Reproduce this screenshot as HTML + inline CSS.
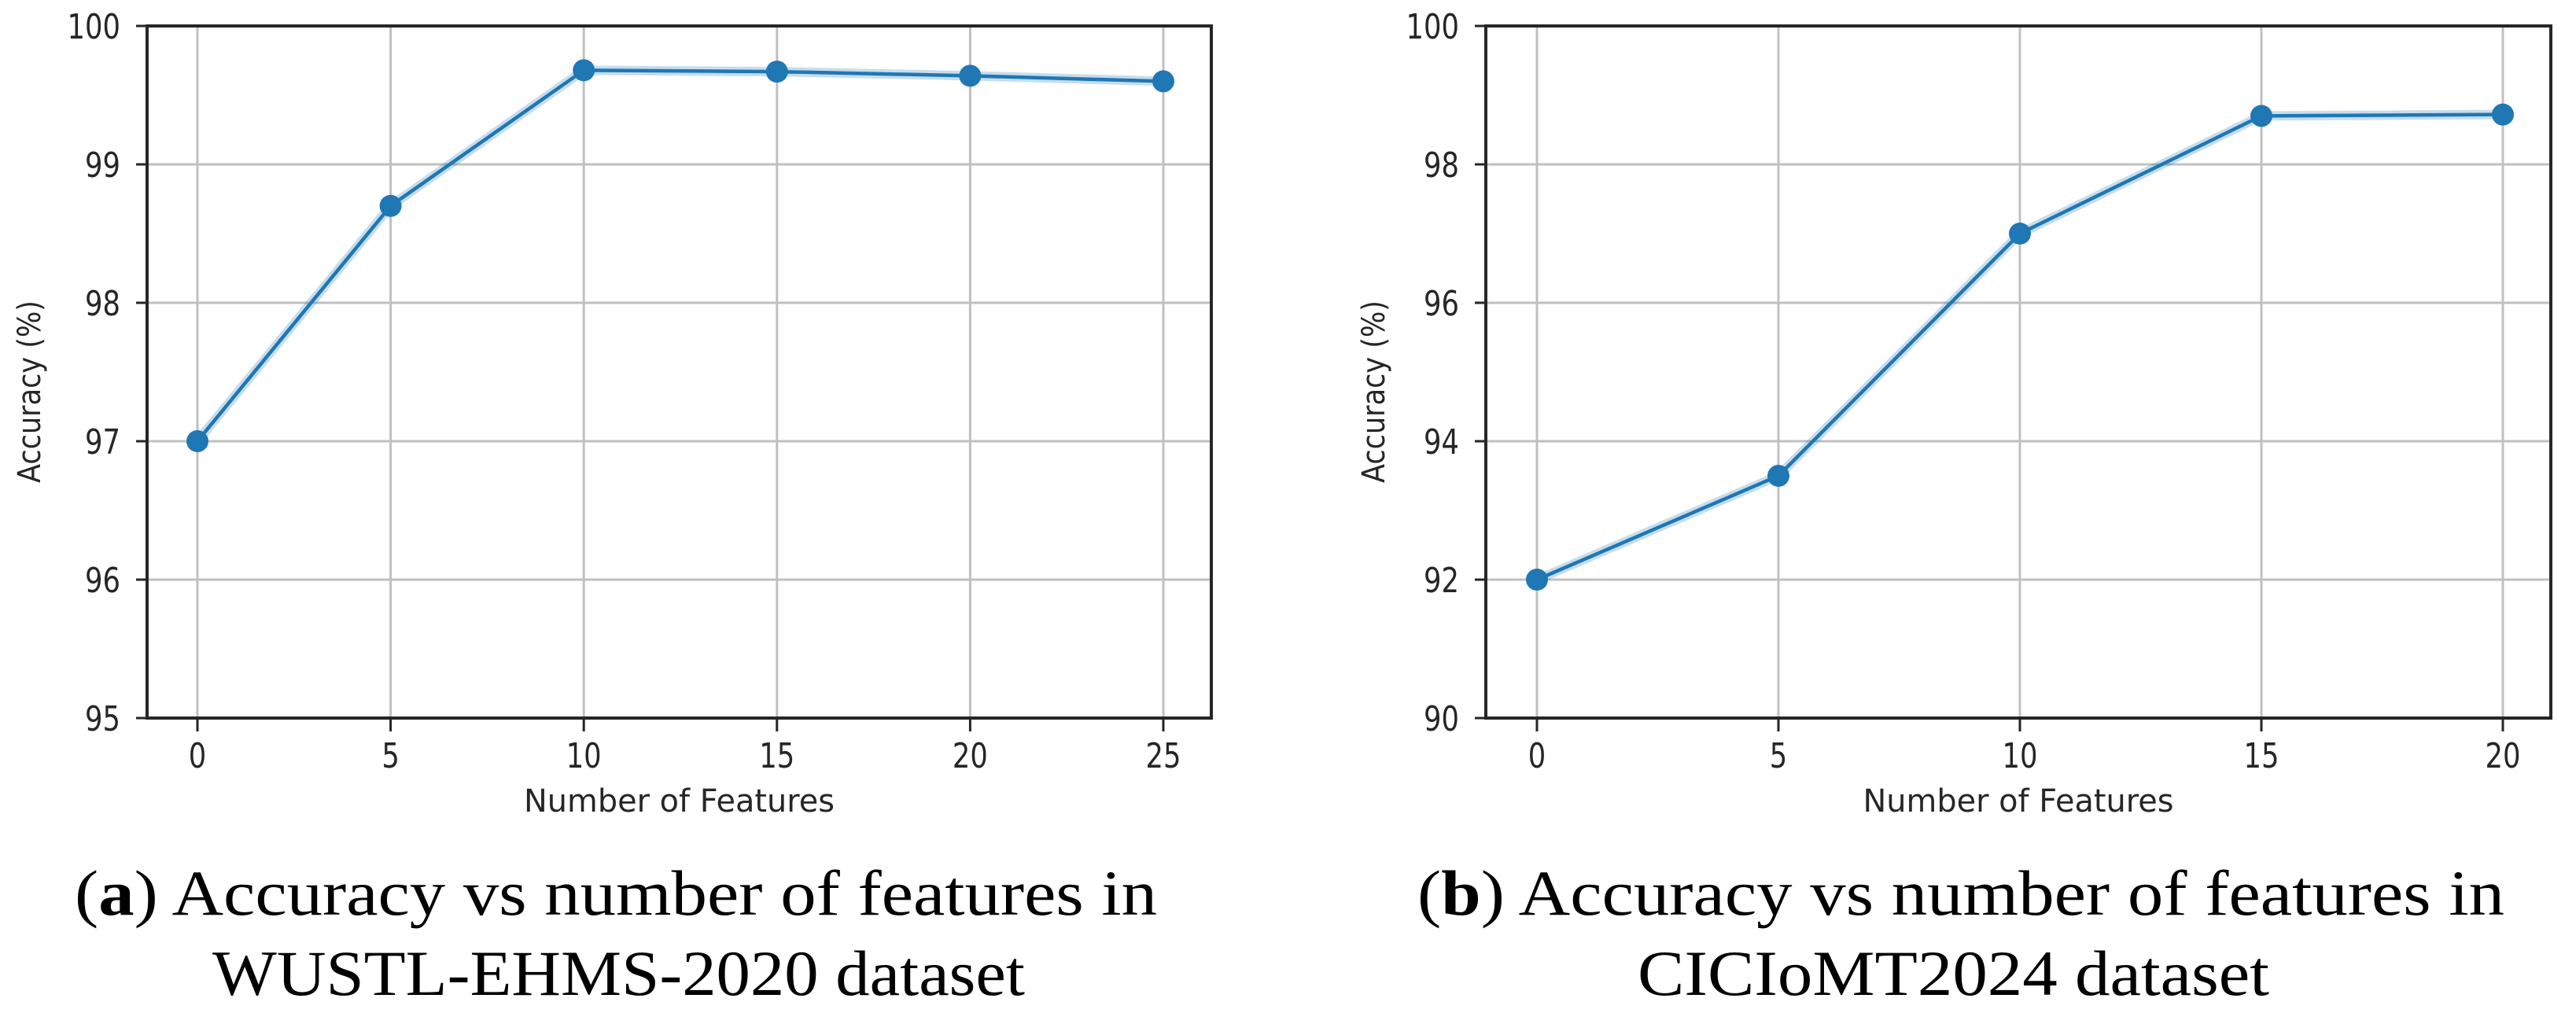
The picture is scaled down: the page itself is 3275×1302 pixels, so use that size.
<!DOCTYPE html>
<html><head><meta charset="utf-8"><style>
html,body{margin:0;padding:0;background:#fff;}
svg{display:block;}
.tick{font-family:"DejaVu Sans","Liberation Sans",sans-serif;font-size:44px;fill:#262626;}
.lab{font-family:"DejaVu Sans","Liberation Sans",sans-serif;font-size:40px;fill:#262626;}
.cap{font-family:"Liberation Serif",serif;font-size:82px;fill:#000;}
</style></head><body>
<svg id="fig" width="3275" height="1302" viewBox="0 0 3275 1302" xmlns="http://www.w3.org/2000/svg">
<g id="chartA"></g>
<g id="chartB"></g>
<text class="cap" x="95" y="1163" textLength="1376" lengthAdjust="spacingAndGlyphs">(<tspan font-weight="bold">a</tspan>) Accuracy vs number of features in</text>
<text class="cap" x="270" y="1265" textLength="1033" lengthAdjust="spacingAndGlyphs">WUSTL-EHMS-2020 dataset</text>
<text class="cap" x="1802" y="1163" textLength="1382" lengthAdjust="spacingAndGlyphs">(<tspan font-weight="bold">b</tspan>) Accuracy vs number of features in</text>
<text class="cap" x="2082" y="1265" textLength="803" lengthAdjust="spacingAndGlyphs">CICIoMT2024 dataset</text>
</svg>
<script>
const featuresA = [0, 5, 10, 15, 20, 25];
const accuracyA = [97.0, 98.7, 99.68, 99.67, 99.64, 99.6];
const xTicksA = [0, 5, 10, 15, 20, 25];
const yTicksA = [95, 96, 97, 98, 99, 100];

const featuresB = [0, 5, 10, 15, 20];
const accuracyB = [92.0, 93.5, 97.0, 98.7, 98.72];
const xTicksB = [0, 5, 10, 15, 20];
const yTicksB = [90, 92, 94, 96, 98, 100];

const NS = "http://www.w3.org/2000/svg";
function mk(parent, tag, attrs, text) {
  const e = document.createElementNS(NS, tag);
  for (const k in attrs) e.setAttribute(k, attrs[k]);
  if (text !== undefined) e.textContent = text;
  parent.appendChild(e);
  return e;
}

function drawChart(gid, cfg, xs, ys, xTicks, yTicks) {
  const g = document.getElementById(gid);
  const X = v => cfg.x0 + (v - cfg.xmin) * cfg.xu;
  const Y = v => cfg.top + (cfg.ymax - v) / (cfg.ymax - cfg.ymin) * (cfg.bottom - cfg.top);
  // grid
  xTicks.forEach(t => {
    const l = mk(g, "line", {x1: X(t), x2: X(t), y1: cfg.top, y2: cfg.bottom, stroke: "#c0c0c0", "stroke-width": 3});
    
    
    const tk = mk(g, "line", {x1: X(t), x2: X(t), y1: cfg.bottom, y2: cfg.bottom + 17, stroke: "#262626", "stroke-width": 3});
    
    
    const s = String(t);
    const tx = mk(g, "text", {class: "tick", x: X(t), y: 976, "text-anchor": "middle", textLength: s.length * 22.5, lengthAdjust: "spacingAndGlyphs"}, s);
    
    
  });
  yTicks.forEach(t => {
    if (t !== cfg.ymin && t !== cfg.ymax) {
      const l = mk(g, "line", {x1: cfg.left, x2: cfg.right, y1: Y(t), y2: Y(t), stroke: "#c0c0c0", "stroke-width": 3});
      
      
    }
    const tk = mk(g, "line", {x1: cfg.left - 14, x2: cfg.left, y1: Y(t), y2: Y(t), stroke: "#262626", "stroke-width": 3});
    
    
    const s = String(t);
    const tx = mk(g, "text", {class: "tick", x: cfg.left - 34, y: Y(t) + 16, "text-anchor": "end", textLength: s.length * 22.5, lengthAdjust: "spacingAndGlyphs"}, s);
    
    
  });
  // frame
  const fr = mk(g, "rect", {x: cfg.left, y: cfg.top, width: cfg.right - cfg.left, height: cfg.bottom - cfg.top, fill: "none", stroke: "#262626", "stroke-width": 4});
  
  
  // series
  const pts = xs.map((x, i) => X(x) + "," + Y(ys[i])).join(" ");
  const halo = mk(g, "polyline", {points: pts, fill: "none", stroke: "#1f77b4", "stroke-opacity": 0.25, "stroke-width": 12});
  
  
  const pl = mk(g, "polyline", {points: pts, fill: "none", stroke: "#1f77b4", "stroke-width": 4.5});
  
  
  xs.forEach((x, i) => {
    const c = mk(g, "circle", {cx: X(x), cy: Y(ys[i]), r: 14, fill: "#1f77b4"});
    
    
  });
  // axis labels
  const xl = mk(g, "text", {class: "lab", x: (cfg.left + cfg.right) / 2, y: 1032, "text-anchor": "middle", textLength: 395, lengthAdjust: "spacingAndGlyphs"}, "Number of Features");
  
  
  const yl = mk(g, "text", {class: "lab", x: 0, y: 0, "text-anchor": "middle", textLength: 232, lengthAdjust: "spacingAndGlyphs", transform: "translate(" + cfg.ylabX + ",498) rotate(-90)"}, "Accuracy (%)");
  
  
}

drawChart("chartA", {left: 187, right: 1540, top: 33, bottom: 913, x0: 251, xmin: 0, xu: 49.12, ymin: 95, ymax: 100, ylabX: 51}, featuresA, accuracyA, xTicksA, yTicksA);
drawChart("chartB", {left: 1889, right: 3243, top: 33, bottom: 913, x0: 1954, xmin: 0, xu: 61.4, ymin: 90, ymax: 100, ylabX: 1760}, featuresB, accuracyB, xTicksB, yTicksB);
</script>
</body></html>
